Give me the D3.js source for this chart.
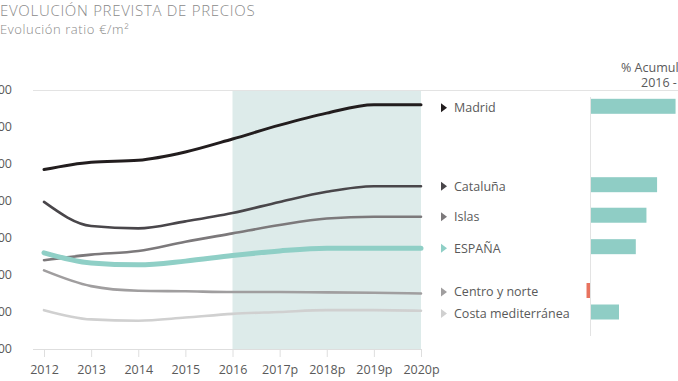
<!DOCTYPE html>
<html>
<head>
<meta charset="utf-8" />
<title>Evolución prevista de precios</title>
<style>
  body { margin: 0; background: #fff; }
  svg { display: block; font-family: "Open Sans", Roboto, sans-serif; }
</style>
</head>
<body>
<svg width="678" height="381"></svg>
<script src="https://cdn.jsdelivr.net/npm/d3@7"></script>
<script>
// datos
var years = ["2012", "2013", "2014", "2015", "2016", "2017p", "2018p", "2019p", "2020p"];
var yTicks = [1000, 1200, 1400, 1600, 1800, 2000, 2200, 2400];
var regions = ["Madrid", "Cataluña", "Islas", "ESPAÑA", "Centro y norte", "Costa mediterránea"];
var madrid = [1970, 2010, 2020, 2065, 2135, 2210, 2275, 2320, 2320];
var cataluna = [1795, 1665, 1652, 1690, 1735, 1795, 1850, 1880, 1880];
var islas = [1480, 1510, 1530, 1580, 1625, 1670, 1705, 1715, 1715];
var espana = [1520, 1465, 1455, 1475, 1505, 1530, 1545, 1545, 1545];
var centroNorte = [1425, 1340, 1315, 1312, 1308, 1308, 1306, 1304, 1300];
var costaMed = [1210, 1160, 1153, 1170, 1190, 1200, 1210, 1210, 1207];
var acumulado = [15.1, 11.8, 9.9, 8.0, -0.8, 5.0]; // % 2016 - 2020p
var forecastFrom = "2016";

var series = [madrid, cataluna, islas, espana, centroNorte, costaMed];
var colors = ["#221d1e", "#49464a", "#7c797b", "#8fcfc6", "#a09e9f", "#d0d0d0"];
var widths = [3, 2.6, 2.6, 5, 2.6, 2.6];

var svg = d3.select("svg");
var textCol = "#5a5a5a";

// titulos
svg.append("text").attr("x", 0).attr("y", 16)
  .attr("font-size", 15).attr("font-weight", 300).attr("fill", "#8a8a8a")
  .attr("letter-spacing", 0.7)
  .text("EVOLUCIÓN PREVISTA DE PRECIOS");
svg.append("text").attr("x", 0).attr("y", 34)
  .attr("font-size", 13).attr("font-weight", 300).attr("fill", "#8a8a8a")
  .attr("letter-spacing", 0.6)
  .text("Evolución ratio €/m²");

var x = d3.scalePoint().domain(years).range([44, 421]);
var y = d3.scaleLinear().domain([1000, 2400]).range([349, 90]);

// zona prevision
svg.append("rect")
  .attr("x", x(forecastFrom)).attr("y", y(2400))
  .attr("width", x(years[years.length - 1]) - x(forecastFrom))
  .attr("height", y(1000) - y(2400))
  .attr("fill", "#ddebea");

// linea superior
svg.append("line").attr("x1", 33).attr("x2", 678)
  .attr("y1", y(2400) + 0.5).attr("y2", y(2400) + 0.5)
  .attr("stroke", "#e3e3e3");

// eje Y (cortado a la izquierda)
var fmt = function(d) { return d3.format(",")(d).replace(",", "."); };
svg.append("g").selectAll("text").data(yTicks).enter().append("text")
  .attr("x", 12).attr("y", function(d) { return y(d); })
  .attr("dy", "0.35em").attr("text-anchor", "end")
  .attr("font-size", 12.5).attr("fill", textCol)
  .text(fmt);

// eje X
var xAxis = svg.append("g").attr("transform", "translate(0," + y(1000) + ")")
  .call(d3.axisBottom(x).tickSize(8).tickPadding(8));
xAxis.select(".domain").attr("d", "M33,0.5H422").attr("stroke", "#dedede");
xAxis.selectAll(".tick line").attr("stroke", "#dedede");
xAxis.selectAll(".tick text").attr("font-size", 12.5).attr("fill", textCol)
  .attr("font-family", "'Open Sans', sans-serif");

// lineas
var line = d3.line()
  .x(function(d, i) { return x(years[i]); })
  .y(function(d) { return y(d); })
  .curve(d3.curveMonotoneX);

svg.append("g").selectAll("path").data(series).enter().append("path")
  .attr("d", line)
  .attr("fill", "none")
  .attr("stroke", function(d, i) { return colors[i]; })
  .attr("stroke-width", function(d, i) { return widths[i]; })
  .attr("stroke-linecap", "round");

// posiciones de etiquetas (final de la linea, separadas)
var labelY = series.map(function(s) { return y(s[s.length - 1]); });
for (var i = 1; i < labelY.length; i++) {
  if (labelY[i] - labelY[i - 1] < 20) labelY[i] = labelY[i - 1] + 20;
}
labelY[0] += 3;
labelY[4] -= 1.5;

var leg = svg.append("g").selectAll("g").data(regions).enter().append("g")
  .attr("transform", function(d, i) { return "translate(0," + labelY[i] + ")"; });
leg.append("path")
  .attr("d", "M441,-4.5L447,0L441,4.5Z")
  .attr("fill", function(d, i) { return colors[i]; });
leg.append("text")
  .attr("x", 454).attr("dy", "0.35em")
  .attr("font-size", 12.5).attr("fill", textCol)
  .text(function(d) { return d; });

// barras % acumulado
var xb = d3.scaleLinear().domain([0, 15]).range([591, 675]);
svg.append("line").attr("x1", 590.5).attr("x2", 590.5)
  .attr("y1", 97).attr("y2", 336).attr("stroke", "#e3e3e3");
leg.append("rect")
  .attr("x", function(d, i) { return Math.min(xb(0), xb(acumulado[i])); })
  .attr("y", -9)
  .attr("width", function(d, i) { return Math.abs(xb(acumulado[i]) - xb(0)); })
  .attr("height", 15)
  .attr("fill", function(d, i) { return acumulado[i] < 0 ? "#e8735f" : "#8fcdc5"; });

svg.append("text").attr("x", 621).attr("y", 72)
  .attr("font-size", 12.5).attr("fill", textCol).text("% Acumulado");
svg.append("text").attr("x", 641).attr("y", 87)
  .attr("font-size", 12.5).attr("fill", textCol).text("2016 - 2020p");
</script>
</body>
</html>
